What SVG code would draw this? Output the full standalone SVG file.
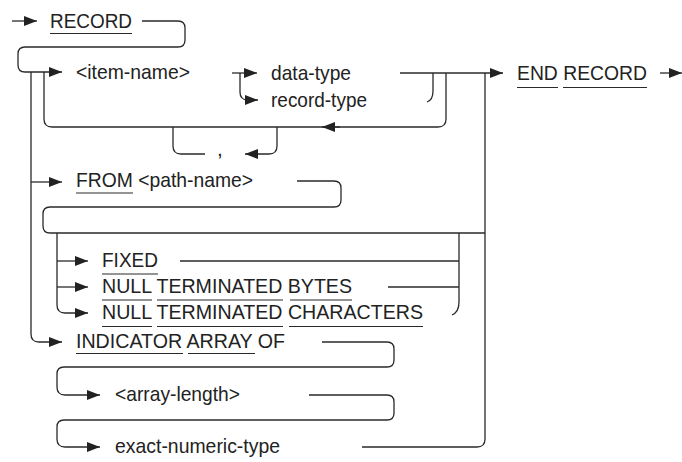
<svg xmlns="http://www.w3.org/2000/svg" width="682" height="462" viewBox="0 0 682 462">
<style>
.c{fill:none;stroke:#2a2a2a;stroke-width:1.3}
.u{stroke:#2a2a2a;stroke-width:1.2}
text{font-family:"Liberation Sans",Arial,sans-serif;font-size:21px;fill:#222}
</style>
<defs>
<marker id="ah" markerUnits="userSpaceOnUse" markerWidth="14" markerHeight="11" refX="13" refY="5" orient="auto">
<path d="M0,0 L13,5 L0,10 z" fill="#222"/>
</marker>
</defs>
<rect width="682" height="462" fill="#fff"/>
<g id="connectors">
<path class="c" d="M12,21 H37" marker-end="url(#ah)"/>
<path class="c" d="M142,21 H178 Q185,21 185,28 V40 Q185,47 178,47 H25 Q18,47 18,54 V65 Q18,72 25,72 H62" marker-end="url(#ah)"/>
<path class="c" d="M232,73 H257" marker-end="url(#ah)"/>
<path class="c" d="M240,73 V92 Q240,100 248,100 H258" marker-end="url(#ah)"/>
<path class="c" d="M400,73 H503" marker-end="url(#ah)"/>
<path class="c" d="M433,73 V91 Q433,100 427,102"/>
<path class="c" d="M446,73 V119 Q446,127 438,127 H52 Q44,127 44,119 V72"/>
<path class="c" d="M340,127 H322" marker-end="url(#ah)"/>
<path class="c" d="M173,127 V146 Q173,154 181,154 H205"/>
<path class="c" d="M277,127 V146 Q277,154 269,154 H245" marker-end="url(#ah)"/>
<path class="c" d="M660,73 H682" marker-end="url(#ah)"/>
<path class="c" d="M31,72 V334 Q31,342 39,342 H62" marker-end="url(#ah)"/>
<path class="c" d="M31,182 H62" marker-end="url(#ah)"/>
<path class="c" d="M297,181 H334 Q341,181 341,188 V200 Q341,207 334,207 H50 Q43,207 43,214 V226 Q43,233 50,233 H485"/>
<path class="c" d="M57,233 V305 Q57,313 65,313 H88" marker-end="url(#ah)"/>
<path class="c" d="M57,261 H88" marker-end="url(#ah)"/>
<path class="c" d="M57,287 H88" marker-end="url(#ah)"/>
<path class="c" d="M180,261 H459"/>
<path class="c" d="M388,287 H459"/>
<path class="c" d="M459,233 V302 Q459,312 452,315"/>
<path class="c" d="M485,73 V439 Q485,447 477,447 H362"/>
<path class="c" d="M322,342 H387 Q394,342 394,349 V360 Q394,367 387,367 H64 Q57,367 57,374 V387 Q57,395 65,395 H100" marker-end="url(#ah)"/>
<path class="c" d="M309,395 H387 Q394,395 394,402 V413 Q394,420 387,420 H64 Q57,420 57,427 V439 Q57,447 65,447 H100" marker-end="url(#ah)"/>
</g>
<g id="n-record"><text x="50" y="28" textLength="82" lengthAdjust="spacingAndGlyphs">RECORD</text><line class="u" x1="50" y1="33.5" x2="132" y2="33.5"/></g>
<g id="n-item-name"><text x="76" y="79" textLength="114" lengthAdjust="spacingAndGlyphs">&lt;item-name&gt;</text></g>
<g id="n-data-type"><text x="271" y="80" textLength="80" lengthAdjust="spacingAndGlyphs">data-type</text></g>
<g id="n-record-type"><text x="271" y="107" textLength="96" lengthAdjust="spacingAndGlyphs">record-type</text></g>
<g id="n-end-record"><text x="517" y="80" textLength="130" lengthAdjust="spacingAndGlyphs">END RECORD</text><line class="u" x1="517" y1="87.5" x2="558" y2="87.5"/><line class="u" x1="563" y1="87.5" x2="647" y2="87.5"/></g>
<g id="n-comma"><text x="217" y="156">,</text></g>
<g id="n-from"><text x="76" y="187" textLength="177" lengthAdjust="spacingAndGlyphs">FROM &lt;path-name&gt;</text><line class="u" x1="76" y1="193" x2="133" y2="193"/></g>
<g id="n-fixed"><text x="102" y="267" textLength="56" lengthAdjust="spacingAndGlyphs">FIXED</text><line class="u" x1="102" y1="274" x2="158" y2="274"/></g>
<g id="n-null-bytes"><text x="102" y="293" textLength="250" lengthAdjust="spacingAndGlyphs">NULL TERMINATED BYTES</text><line class="u" x1="102" y1="300" x2="152" y2="300"/><line class="u" x1="157" y1="300" x2="283" y2="300"/><line class="u" x1="290" y1="300" x2="352" y2="300"/></g>
<g id="n-null-chars"><text x="102" y="319" textLength="321" lengthAdjust="spacingAndGlyphs">NULL TERMINATED CHARACTERS</text><line class="u" x1="102" y1="326.5" x2="152" y2="326.5"/><line class="u" x1="157" y1="326.5" x2="283" y2="326.5"/><line class="u" x1="289" y1="326.5" x2="423" y2="326.5"/></g>
<g id="n-indicator"><text x="76" y="348" textLength="209" lengthAdjust="spacingAndGlyphs">INDICATOR ARRAY OF</text><line class="u" x1="76" y1="353.5" x2="183" y2="353.5"/><line class="u" x1="188" y1="353.5" x2="255" y2="353.5"/></g>
<g id="n-array-length"><text x="115" y="401" textLength="125" lengthAdjust="spacingAndGlyphs">&lt;array-length&gt;</text></g>
<g id="n-exact-numeric-type"><text x="115" y="453" textLength="165" lengthAdjust="spacingAndGlyphs">exact-numeric-type</text></g>
</svg>
